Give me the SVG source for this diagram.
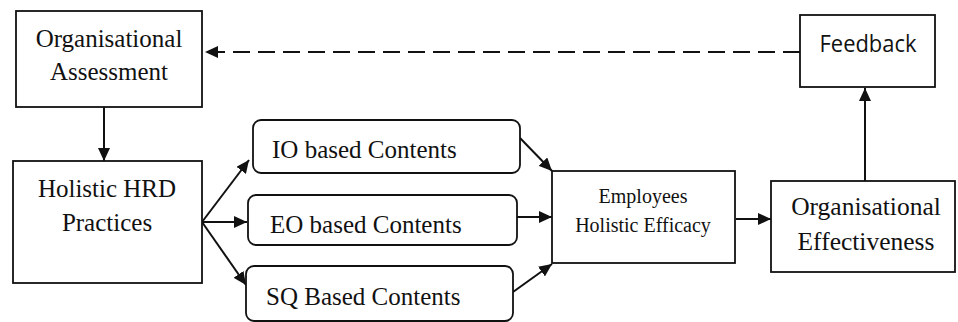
<svg xmlns="http://www.w3.org/2000/svg" width="958" height="322" viewBox="0 0 958 322">
<defs>
<style>
.box{fill:#fff;stroke:#111;stroke-width:1.8}
.t{font-family:"Liberation Serif","Times New Roman",serif;fill:#111;font-size:25px}
.tc{text-anchor:middle}
.sm{font-size:20px}
.lg{font-size:25.5px}
.s{font-family:"Open Sans","Liberation Sans",sans-serif;fill:#111;font-size:23px}
.c{stroke:#111;stroke-width:2;fill:none}
</style>
<marker id="ah" markerUnits="userSpaceOnUse" markerWidth="14" markerHeight="12" refX="13" refY="6" orient="auto">
<path d="M0,0 L13,6 L0,12 Z" fill="#111"/>
</marker>
</defs>
<rect width="958" height="322" fill="#fff"/>
<g id="connectors">
<line class="c" x1="800" y1="52" x2="205" y2="52" stroke-dasharray="17 8" marker-end="url(#ah)"/>
<line class="c" x1="104" y1="107" x2="104" y2="161" marker-end="url(#ah)"/>
<line class="c" x1="202" y1="222" x2="249" y2="160" marker-end="url(#ah)"/>
<line class="c" x1="202" y1="222" x2="247" y2="222" marker-end="url(#ah)"/>
<line class="c" x1="202" y1="222" x2="246" y2="285" marker-end="url(#ah)"/>
<line class="c" x1="520" y1="138" x2="552" y2="171" marker-end="url(#ah)"/>
<line class="c" x1="517" y1="217" x2="552" y2="217" marker-end="url(#ah)"/>
<line class="c" x1="513" y1="292" x2="552" y2="264" marker-end="url(#ah)"/>
<line class="c" x1="736" y1="219" x2="771" y2="219" marker-end="url(#ah)"/>
<line class="c" x1="865" y1="181" x2="865" y2="88" marker-end="url(#ah)"/>
</g>
<g id="org-assessment">
<rect class="box" x="16" y="11" width="186" height="96"/>
<text class="t tc" x="109" y="47">Organisational</text>
<text class="t tc" x="109" y="80">Assessment</text>
</g>
<g id="feedback">
<rect class="box" x="800" y="15" width="135" height="72"/>
<text class="s tc" x="868" y="52" textLength="97" lengthAdjust="spacingAndGlyphs">Feedback</text>
</g>
<g id="holistic-hrd">
<rect class="box" x="13" y="161" width="189" height="122"/>
<text class="t tc" x="107" y="197">Holistic HRD</text>
<text class="t tc" x="107" y="231">Practices</text>
</g>
<g id="io-contents">
<rect class="box" x="253" y="120" width="267" height="53" rx="8"/>
<text class="t" x="272" y="158">IO based Contents</text>
</g>
<g id="eo-contents">
<rect class="box" x="248" y="195" width="269" height="50" rx="8"/>
<text class="t" x="270" y="233">EO based Contents</text>
</g>
<g id="sq-contents">
<rect class="box" x="246" y="266" width="267" height="55" rx="8"/>
<text class="t" x="266" y="305">SQ Based Contents</text>
</g>
<g id="employees-efficacy">
<rect class="box" x="552" y="171" width="183" height="92"/>
<text class="t tc sm" x="643" y="203">Employees</text>
<text class="t tc sm" x="643" y="232">Holistic Efficacy</text>
</g>
<g id="org-effectiveness">
<rect class="box" x="771" y="181" width="184" height="91"/>
<text class="t tc lg" x="866" y="215">Organisational</text>
<text class="t tc lg" x="866" y="250">Effectiveness</text>
</g>
</svg>
